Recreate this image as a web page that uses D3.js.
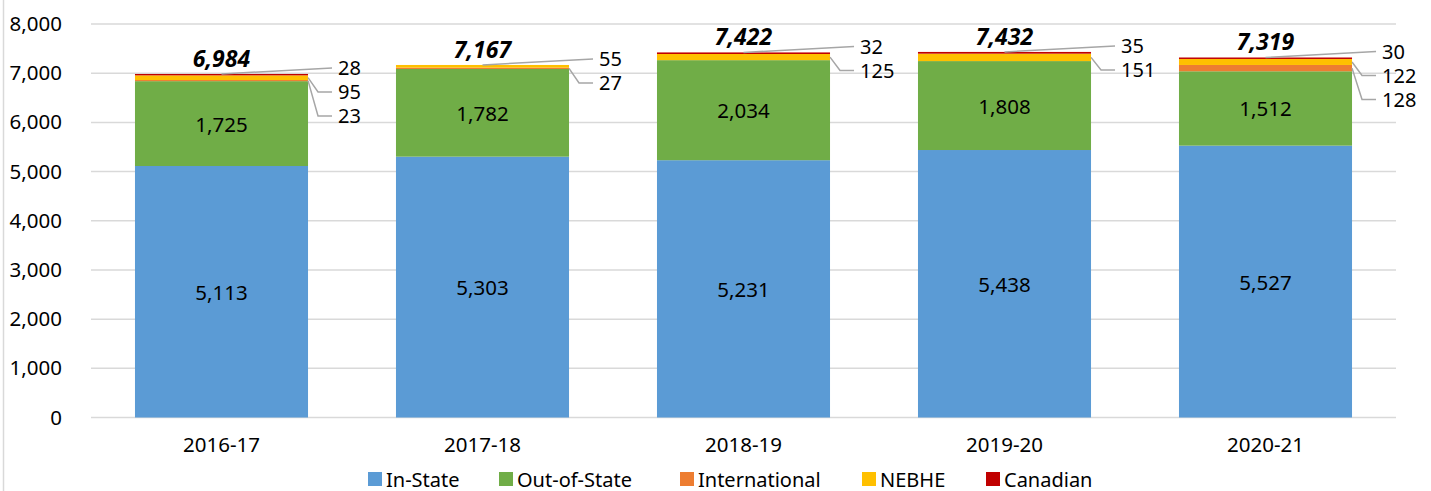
<!DOCTYPE html>
<html>
<head>
<meta charset="utf-8">
<script src="https://cdn.jsdelivr.net/npm/d3@7"></script>
<style>
  body { margin: 0; background: #fff; }
  svg { display: block; font-family: "Noto Sans", sans-serif; }
</style>
</head>
<body>
<div id="chart"></div>
<script>
const years = ["2016-17", "2017-18", "2018-19", "2019-20", "2020-21"]
const seriesNames = ["In-State", "Out-of-State", "International", "NEBHE", "Canadian"]
const inState = [5113, 5303, 5231, 5438, 5527]
const outOfState = [1725, 1782, 2034, 1808, 1512]
const international = [23, 27, 0, 0, 128]
const nebhe = [95, 55, 125, 151, 122]
const canadian = [28, 0, 32, 35, 30]
const totals = [6984, 7167, 7422, 7432, 7319]
const yTicks = [0, 1000, 2000, 3000, 4000, 5000, 6000, 7000, 8000]

const width = 1431, height = 491
const margin = ({top: 24, right: 35, bottom: 73.5, left: 91})
const colors = ["#5B9BD5", "#70AD47", "#ED7D31", "#FFC000", "#C00000"]

const rows = years.map((yr, i) => ({
  year: yr,
  "In-State": inState[i],
  "Out-of-State": outOfState[i],
  "International": international[i],
  "NEBHE": nebhe[i],
  "Canadian": canadian[i],
  total: totals[i]
}))

const svg = d3.select("#chart")
  .append("svg")
  .attr("width", width)
  .attr("height", height)
  .attr("viewBox", [0, 0, width, height])

// left edge of the chart frame
svg.append("line")
  .attr("x1", 3.5).attr("x2", 3.5)
  .attr("y1", 0).attr("y2", height)
  .attr("stroke", "#D9D9D9")
  .attr("stroke-width", 1.5)

const x = d3.scaleBand()
  .domain(years)
  .range([margin.left, width - margin.right])
  .paddingInner(0.337)
  .paddingOuter(0.1685)

const y = d3.scaleLinear()
  .domain([0, 8000])
  .range([height - margin.bottom, margin.top])

const color = d3.scaleOrdinal(seriesNames, colors)

// grid
svg.append("g")
  .attr("stroke", "#D9D9D9")
  .attr("stroke-width", 1.5)
  .selectAll("line")
  .data(yTicks)
  .join("line")
  .attr("x1", margin.left)
  .attr("x2", width - margin.right)
  .attr("y1", d => y(d))
  .attr("y2", d => y(d))

// y axis
svg.append("g")
  .attr("transform", `translate(${margin.left},0)`)
  .call(d3.axisLeft(y).tickValues(yTicks).tickFormat(d3.format(",")).tickSize(0).tickPadding(29))
  .call(g => g.select(".domain").remove())
  .call(g => g.selectAll("text")
    .attr("font-family", "Noto Sans")
    .attr("font-size", 20.5)
    .attr("fill", "#000"))

// x axis
svg.append("g")
  .attr("transform", `translate(0,${height - margin.bottom})`)
  .call(d3.axisBottom(x).tickSize(0).tickPadding(20))
  .call(g => g.select(".domain").remove())
  .call(g => g.selectAll("text")
    .attr("font-family", "Noto Sans")
    .attr("font-size", 20.5)
    .attr("fill", "#000"))

const stack = d3.stack().keys(seriesNames)
const layers = stack(rows)

// bars
svg.append("g")
  .selectAll("g")
  .data(layers)
  .join("g")
  .attr("fill", d => color(d.key))
  .selectAll("rect")
  .data(d => d)
  .join("rect")
  .attr("x", d => x(d.data.year))
  .attr("width", x.bandwidth())
  .attr("y", d => y(d[1]))
  .attr("height", d => y(d[0]) - y(d[1]))

// labels inside the two big segments
svg.append("g")
  .attr("font-size", 20.5)
  .attr("text-anchor", "middle")
  .attr("dominant-baseline", "central")
  .selectAll("text")
  .data(layers.slice(0, 2).flat())
  .join("text")
  .attr("x", d => x(d.data.year) + x.bandwidth() / 2)
  .attr("y", d => y((d[0] + d[1]) / 2))
  .text(d => d3.format(",")(d[1] - d[0]))

// totals
svg.append("g")
  .attr("font-size", 23)
  .attr("font-weight", "bold")
  .attr("font-style", "italic")
  .attr("text-anchor", "middle")
  .attr("dominant-baseline", "central")
  .selectAll("text")
  .data(rows)
  .join("text")
  .attr("x", d => x(d.year) + x.bandwidth() / 2)
  .attr("y", d => y(d.total) - 16)
  .text(d => d3.format(",")(d.total))

// small segments: labels to the right with leader lines
const callouts = []
rows.forEach((r, i) => {
  const segs = layers.slice(2).map(l => l[i]).filter(s => s[1] - s[0] > 0).reverse()
  const left = x(r.year), right = left + x.bandwidth()
  const top = y(r.total)
  segs.forEach((s, j) => {
    const ly = top - 6 + j * 24
    const mid = y((s[0] + s[1]) / 2)
    let pts
    if (j === 0) pts = [[left + x.bandwidth() / 2, top], [right + 24, ly]]
    else pts = [[right, mid], [right + 10, ly], [right + 24, ly]]
    callouts.push({pts, lx: right + 30, ly, value: s[1] - s[0]})
  })
})

svg.append("g")
  .attr("fill", "none")
  .attr("stroke", "#A6A6A6")
  .attr("stroke-width", 1.5)
  .selectAll("path")
  .data(callouts)
  .join("path")
  .attr("d", d => d3.line()(d.pts))

svg.append("g")
  .attr("font-size", 20)
  .attr("dominant-baseline", "central")
  .selectAll("text")
  .data(callouts)
  .join("text")
  .attr("x", d => d.lx)
  .attr("y", d => d.ly)
  .text(d => d.value)

// legend
const legendX = [368, 499, 680, 862, 986]
const legend = svg.append("g")
  .attr("font-size", 20)
  .selectAll("g")
  .data(seriesNames)
  .join("g")
  .attr("transform", (d, i) => `translate(${legendX[i]},${height - 12})`)
legend.append("rect")
  .attr("y", -7).attr("width", 14).attr("height", 14)
  .attr("fill", d => color(d))
legend.append("text")
  .attr("x", 18)
  .attr("dominant-baseline", "central")
  .text(d => d)
</script>
</body>
</html>
